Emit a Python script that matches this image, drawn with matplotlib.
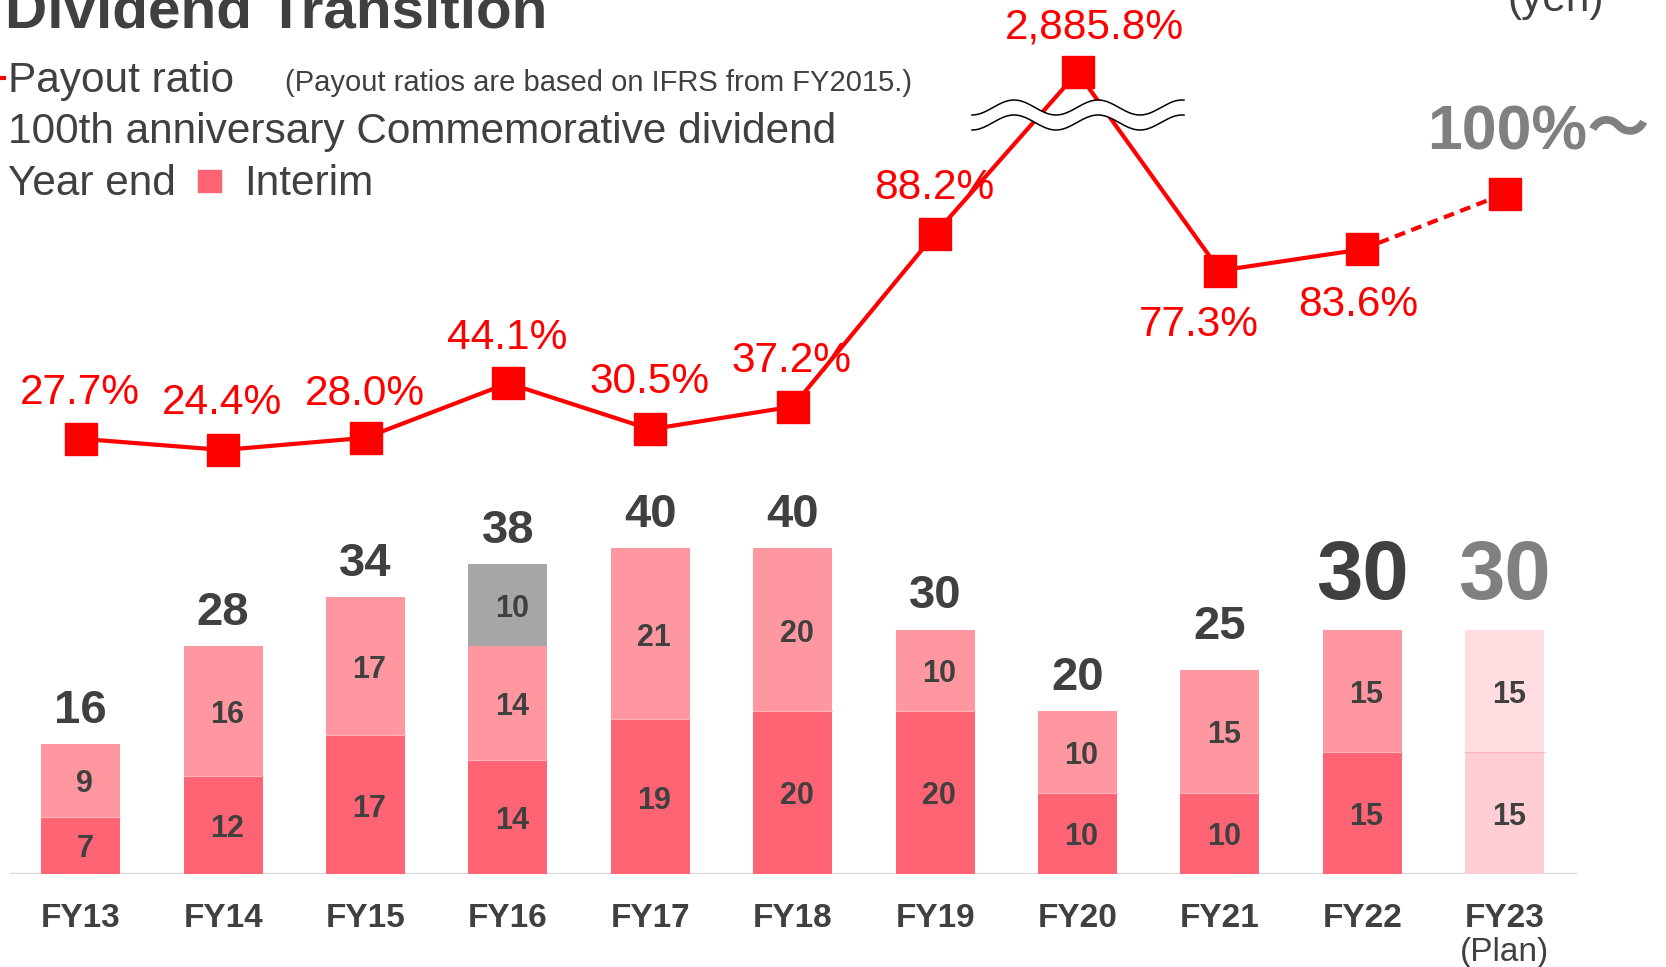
import numpy as np
import matplotlib
matplotlib.use("Agg")
import matplotlib.pyplot as plt
from matplotlib.patches import Rectangle
from matplotlib.lines import Line2D

plt.rcParams['font.family'] = ['Liberation Sans', 'Noto Sans CJK JP', 'DejaVu Sans']

# ---------------- data ----------------
years = ["FY13", "FY14", "FY15", "FY16", "FY17", "FY18", "FY19", "FY20", "FY21", "FY22", "FY23"]
interim = [7, 12, 17, 14, 19, 20, 20, 10, 10, 15, 15]
year_end = [9, 16, 17, 14, 21, 20, 10, 10, 15, 15, 15]
commemorative = [0, 0, 0, 10, 0, 0, 0, 0, 0, 0, 0]
totals = [16, 28, 34, 38, 40, 40, 30, 20, 25, 30, 30]
payout = [27.7, 24.4, 28.0, 44.1, 30.5, 37.2, 88.2, 2885.8, 77.3, 83.6, 100.0]
payout_text = ["27.7%", "24.4%", "28.0%", "44.1%", "30.5%", "37.2%", "88.2%",
               "2,885.8%", "77.3%", "83.6%", "100%～"]

# ---------------- layout ----------------
W, H = 1666, 967
BASE_Y = 874          # baseline pixel row
X0, DX = 80.75, 142.4 # first bar centre & spacing (px)
PX_PER_YEN = 8.15
PCT_A, PCT_S = 532.7, 3.39   # payout pixel mapping y = A - S*v
BREAK_AT = 135.8             # displayed position of the broken value

TXT = '#404040'
RED = '#FF0000'

fig = plt.figure(figsize=(W / 100, H / 100), dpi=100)
fig.patch.set_facecolor('white')

def fx(px):
    return px / W

def fy(py):
    return 1 - py / H

ax = fig.add_axes([0, (H - BASE_Y) / H, 1, BASE_Y / H])
ax.set_xlim(-X0 / DX, (W - X0) / DX)
ax.set_ylim(0, BASE_Y / PX_PER_YEN)
for s in ax.spines.values():
    s.set_visible(False)
ax.set_yticks([])

x = np.arange(len(years))
bw = 79 / DX
c_int = ['#FF6474'] * 10 + ['#FFCDD4']
c_ye = ['#FF97A1'] * 10 + ['#FFDDE1']
interim_a = np.array(interim)
year_end_a = np.array(year_end)
comm_a = np.array(commemorative)

ax.bar(x, interim_a, width=bw, color=c_int, edgecolor='none', zorder=2)
ax.bar(x, year_end_a, bottom=interim_a, width=bw, color=c_ye, edgecolor='none', zorder=2)
ax.bar(x, comm_a, bottom=interim_a + year_end_a, width=bw, color='#A6A6A6',
       edgecolor='none', zorder=2)

# segment boundary highlights
for xi, b in zip(x, interim_a):
    ax.plot([xi - bw / 2, xi + bw / 2], [b, b], color='#FFB3BB', lw=0.8, zorder=3)

# segment labels
for xi, a, b, c in zip(x, interim_a, year_end_a, comm_a):
    for val, bottom in ((a, 0), (b, a), (c, a + b)):
        if val > 0:
            ax.annotate(str(val), (xi, bottom + val / 2), xytext=(4, -4),
                        textcoords='offset pixels', ha='center', va='center',
                        fontsize=22, fontweight='bold', color=TXT, zorder=6)

# totals
total_gap = [21, 21, 21, 21, 21, 21, 21, 21, 31, 30, 30]
for i, (xi, t, g) in enumerate(zip(x, totals, total_gap)):
    big = i >= 9
    col = '#808080' if i == 10 else TXT
    ax.annotate(str(t), (xi, t), xytext=(0, g),
                textcoords='offset pixels', ha='center', va='baseline',
                fontsize=60 if big else 34, fontweight='bold', color=col, zorder=6)

# baseline
ax.axhline(0, xmin=10.6 / W, xmax=1576 / W, color='#D9D9D9', lw=1.6, zorder=1)

ax.set_xticks(x, years)
ax.tick_params(axis='x', length=0, pad=21, labelsize=24, labelcolor=TXT)
for lbl in ax.get_xticklabels():
    lbl.set_fontweight('bold')
ax.annotate('(Plan)', (x[-1], 0), xytext=(0, -(961 - BASE_Y)), textcoords='offset pixels',
            ha='center', va='baseline', fontsize=24, color=TXT, annotation_clip=False)

# ---------------- payout ratio line ----------------
ax2 = ax.twinx()
ax2.set_ylim((PCT_A - BASE_Y) / PCT_S, PCT_A / PCT_S)
ax2.axis('off')

disp = np.minimum(np.array(payout), BREAK_AT)
ax2.plot(x[:10], disp[:10], color=RED, lw=3, zorder=2, solid_capstyle='butt')
ax2.plot(x[9:], disp[9:], color=RED, lw=3, ls=(0, (2.6, 1.6)), zorder=2)
ax2.plot(x, disp, ls='none', marker='s', ms=23, color=RED, zorder=5)

# break symbol (wavy lines)
wx = np.linspace(972, 1184, 300)
wy_up = 107.5 + 7.5 * np.cos(2 * np.pi * (wx - 972) / 84)
wy_lo = wy_up + 15
wxd = (wx - X0) / DX
ax2.fill_between(wxd, (PCT_A - wy_up) / PCT_S, (PCT_A - wy_lo) / PCT_S,
                 color='white', zorder=3, lw=0)
ax2.plot(wxd, (PCT_A - wy_up) / PCT_S, color='black', lw=1.1, zorder=4)
ax2.plot(wxd, (PCT_A - wy_lo) / PCT_S, color='black', lw=1.1, zorder=4)

# payout labels
offsets = [(-1, 46), (-1, 47), (-1, 44), (-1, 45), (-1, 47), (-1, 46), (-1, 46),
           (17, 45), (-21, -54), (-4, -56), (34, 61)]
for i, (xi, v, t, (ox, oy)) in enumerate(zip(x, disp, payout_text, offsets)):
    if i == 10:
        ax2.annotate(t, (xi, v), xytext=(ox, oy), textcoords='offset pixels',
                     ha='center', va='center', fontsize=45, fontweight='bold',
                     color='#808080', zorder=7, annotation_clip=False)
    else:
        ax2.annotate(t, (xi, v), xytext=(ox, oy), textcoords='offset pixels',
                     ha='center', va='center', fontsize=30.5, color=RED, zorder=7,
                     annotation_clip=False)

# ---------------- title & legend texts ----------------
fig.text(fx(5), fy(27), 'Dividend Transition', fontsize=42, fontweight='bold',
         color=TXT, ha='left', va='baseline')
fig.text(fx(1604), fy(11), '(yen)', fontsize=30.5, color=TXT, ha='right', va='baseline')

fig.add_artist(Line2D([fx(0), fx(4)], [fy(78), fy(78)], color=RED, lw=3,
                      transform=fig.transFigure))
fig.text(fx(8.5), fy(81), 'Payout ratio', fontsize=30.5, color=TXT, ha='left', va='center')
fig.text(fx(285), fy(83), '(Payout ratios are based on IFRS from FY2015.)', fontsize=21,
         color=TXT, ha='left', va='center')
fig.text(fx(8.5), fy(131.6), '100th anniversary Commemorative dividend', fontsize=30.5,
         color=TXT, ha='left', va='center')
fig.text(fx(8.5), fy(183.6), 'Year end', fontsize=30.5, color=TXT, ha='left', va='center')
fig.add_artist(Rectangle((fx(198), fy(192)), 23 / W, 22 / H, color='#FF6474',
                         transform=fig.transFigure))
fig.text(fx(244), fy(183.6), 'Interim', fontsize=30.5, color=TXT, ha='left', va='center')

fig.savefig('out.png', dpi=100, facecolor='white')
